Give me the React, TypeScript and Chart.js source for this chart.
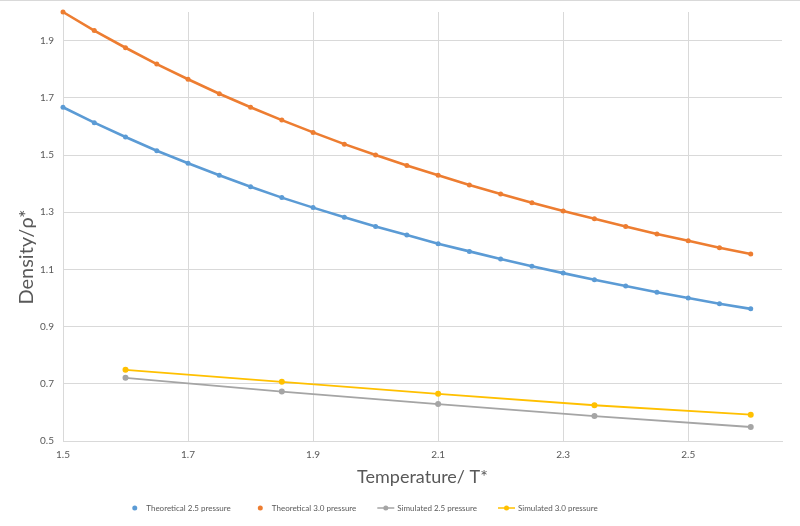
import { useEffect, useRef } from 'react';
import { Chart, registerables } from 'chart.js';

Chart.register(...registerables);

// Reduced temperature for the theoretical curves
const temperatures = [
  1.5, 1.55, 1.6, 1.65, 1.7, 1.75, 1.8, 1.85, 1.9, 1.95, 2.0, 2.05,
  2.1, 2.15, 2.2, 2.25, 2.3, 2.35, 2.4, 2.45, 2.5, 2.55, 2.6,
];
const theoretical25 = [
  1.667, 1.613, 1.563, 1.515, 1.471, 1.429, 1.389, 1.351, 1.316, 1.282, 1.25, 1.22,
  1.19, 1.163, 1.136, 1.111, 1.087, 1.064, 1.042, 1.02, 1.0, 0.98, 0.962,
];
const theoretical30 = [
  2.0, 1.935, 1.875, 1.818, 1.765, 1.714, 1.667, 1.622, 1.579, 1.538, 1.5, 1.463,
  1.429, 1.395, 1.364, 1.333, 1.304, 1.277, 1.25, 1.224, 1.2, 1.176, 1.154,
];

// Simulation runs
const simTemperatures = [1.6, 1.85, 2.1, 2.35, 2.6];
const simulated25 = [0.721, 0.673, 0.629, 0.587, 0.549];
const simulated30 = [0.749, 0.707, 0.665, 0.625, 0.592];

const xTicks = [1.5, 1.7, 1.9, 2.1, 2.3, 2.5];
const yTicks = [0.5, 0.7, 0.9, 1.1, 1.3, 1.5, 1.7, 1.9];

const seriesNames = [
  'Theoretical 2.5 pressure',
  'Theoretical 3.0 pressure',
  'Simulated 2.5 pressure',
  'Simulated 3.0 pressure',
];
const seriesColors = ['#5B9BD5', '#ED7D31', '#A5A5A5', '#FFC000'];
const legendShowsLine = [false, false, true, true];

const FONT = "Lato, 'Open Sans', 'DejaVu Sans', sans-serif";
const TEXT = '#595959';
const GRID = '#D9D9D9';

const toPoints = (xs: number[], ys: number[]) => xs.map((x, i) => ({ x, y: ys[i] }));

// Frame line, rotated y title and the legend row
const decorPlugin = {
  id: 'decor',
  afterDraw(chart: any) {
    const ctx: CanvasRenderingContext2D = chart.ctx;
    ctx.save();
    ctx.strokeStyle = GRID;
    ctx.lineWidth = 1;
    ctx.beginPath();
    ctx.moveTo(0, 0.5);
    ctx.lineTo(chart.width, 0.5);
    ctx.stroke();

    ctx.save();
    ctx.translate(27, 257);
    ctx.rotate(-Math.PI / 2);
    ctx.font = `20px ${FONT}`;
    ctx.fillStyle = TEXT;
    ctx.textAlign = 'center';
    ctx.textBaseline = 'middle';
    ctx.fillText('Density/\u03C1*', 0, 0);
    ctx.restore();

    ctx.font = `8px ${FONT}`;
    const symW = 17;
    const textGap = 3;
    const itemGap = 21;
    const widths = seriesNames.map((n) => ctx.measureText(n).width);
    const total =
      widths.reduce((a, b) => a + b, 0) + seriesNames.length * (symW + textGap) + itemGap * (seriesNames.length - 1);
    let x = 362 - total / 2;
    const y = 508;
    ctx.textBaseline = 'middle';
    ctx.textAlign = 'left';
    seriesNames.forEach((name, i) => {
      const color = seriesColors[i];
      const cx = x + symW / 2;
      if (legendShowsLine[i]) {
        ctx.strokeStyle = color;
        ctx.lineWidth = 1.5;
        ctx.beginPath();
        ctx.moveTo(x, y);
        ctx.lineTo(x + symW, y);
        ctx.stroke();
      }
      ctx.fillStyle = color;
      ctx.beginPath();
      ctx.arc(cx, y, 2.5, 0, Math.PI * 2);
      ctx.fill();
      ctx.fillStyle = TEXT;
      ctx.fillText(name, x + symW + textGap, y);
      x += symW + textGap + widths[i] + itemGap;
    });
    ctx.restore();
  },
};

export default function App() {
  const canvasRef = useRef<HTMLCanvasElement | null>(null);

  useEffect(() => {
    document.body.style.margin = '0';
    const canvas = canvasRef.current;
    if (!canvas) return;

    const chart = new Chart(canvas, {
      type: 'scatter',
      data: {
        datasets: [
          {
            label: seriesNames[0],
            data: toPoints(temperatures, theoretical25),
            showLine: true,
            borderColor: seriesColors[0],
            backgroundColor: seriesColors[0],
            borderWidth: 2.6,
            pointRadius: 2.5,
            pointBorderWidth: 0,
            clip: false,
          },
          {
            label: seriesNames[1],
            data: toPoints(temperatures, theoretical30),
            showLine: true,
            borderColor: seriesColors[1],
            backgroundColor: seriesColors[1],
            borderWidth: 2.6,
            pointRadius: 2.5,
            pointBorderWidth: 0,
            clip: false,
          },
          {
            label: seriesNames[2],
            data: toPoints(simTemperatures, simulated25),
            showLine: true,
            borderColor: seriesColors[2],
            backgroundColor: seriesColors[2],
            borderWidth: 1.8,
            pointRadius: 3,
            pointBorderWidth: 0,
            clip: false,
          },
          {
            label: seriesNames[3],
            data: toPoints(simTemperatures, simulated30),
            showLine: true,
            borderColor: seriesColors[3],
            backgroundColor: seriesColors[3],
            borderWidth: 1.8,
            pointRadius: 3,
            pointBorderWidth: 0,
            clip: false,
          },
        ],
      },
      options: {
        animation: false,
        responsive: false,
        layout: { padding: { top: 12, right: 18, left: 0, bottom: 0 } },
        plugins: {
          legend: { display: false },
          tooltip: { enabled: false },
        },
        scales: {
          x: {
            type: 'linear',
            min: 1.5,
            max: 2.65,
            afterBuildTicks: (scale: any) => {
              scale.ticks = xTicks.map((v) => ({ value: v }));
            },
            afterFit: (scale: any) => {
              scale.height = 85;
              scale.paddingLeft = 0;
              scale.paddingRight = 0;
            },
            grid: { color: GRID, drawTicks: false },
            border: { color: GRID },
            ticks: {
              padding: 8,
              color: TEXT,
              font: { family: FONT, size: 10 },
              callback: (v: any) => Number(v).toFixed(1),
            },
            title: {
              display: true,
              text: 'Temperature/ T*',
              color: TEXT,
              font: { family: FONT, size: 18 },
              padding: { top: 0, bottom: 38 },
            },
          },
          y: {
            type: 'linear',
            min: 0.5,
            max: 2.0,
            afterBuildTicks: (scale: any) => {
              scale.ticks = yTicks.map((v) => ({ value: v }));
            },
            afterFit: (scale: any) => {
              scale.width = 63;
              scale.paddingTop = 0;
              scale.paddingBottom = 0;
            },
            grid: { color: GRID, drawTicks: false },
            border: { color: GRID },
            ticks: {
              padding: 9,
              color: TEXT,
              font: { family: FONT, size: 10 },
              callback: (v: any) => Number(v).toFixed(1),
            },
          },
        },
      },
      plugins: [decorPlugin],
    });

    return () => chart.destroy();
  }, []);

  return (
    <div style={{ width: 800, height: 526 }}>
      <canvas ref={canvasRef} width={800} height={526} style={{ display: 'block' }} />
    </div>
  );
}
